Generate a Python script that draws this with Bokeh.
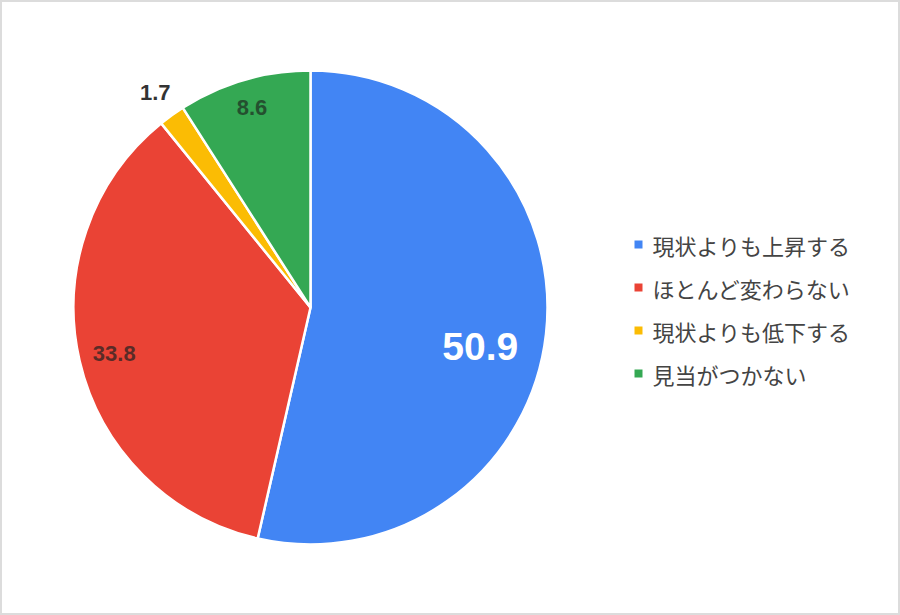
import math
from bokeh.plotting import figure
from bokeh.models import ColumnDataSource, Range1d
from bokeh.core.properties import value
from bokeh.embed import file_html
from bokeh.resources import INLINE

categories = ["現状よりも上昇する", "ほとんど変わらない", "現状よりも低下する", "見当がつかない"]
values = [50.9, 33.8, 1.7, 8.6]
labels = ["50.9", "33.8", "1.7", "8.6"]
colors = ["#4285F4", "#EA4335", "#FBBC04", "#34A853"]

# styling
label_colors = ["#ffffff", "#5a2b27", "#333333", "#24502f"]
label_sizes = ["39px", "22px", "22px", "22px"]
label_rfrac = [0.735, 0.85, 1.12, 0.88]
label_nudge_deg = [-6.5, 0.0, 0.0, 0.0]

W, H = 900, 615
cx, cy, R = 310, 615 - 307, 237

p = figure(width=W, height=H, output_backend="svg", toolbar_location=None,
           x_range=Range1d(0, W), y_range=Range1d(0, H),
           x_axis_location=None, y_axis_location=None, min_border=0,
           background_fill_color="white", border_fill_color="white")
p.grid.visible = False
p.outline_line_color = "#dcdcdc"
p.outline_line_width = 3

total = sum(values)
starts, ends, mids = [], [], []
acc = 0.0
for v in values:
    a0 = math.pi / 2 - 2 * math.pi * acc / total
    acc += v
    a1 = math.pi / 2 - 2 * math.pi * acc / total
    starts.append(a0)
    ends.append(a1)
    mids.append((a0 + a1) / 2)

src = ColumnDataSource(dict(start=starts, end=ends, color=colors))
p.wedge(x=cx, y=cy, radius=R, start_angle="start", end_angle="end",
        direction="clock", fill_color="color", line_color="white",
        line_width=2.5, source=src)

lx, ly = [], []
for m, rf, nd in zip(mids, label_rfrac, label_nudge_deg):
    a = m + math.radians(nd)
    lx.append(cx + rf * R * math.cos(a))
    ly.append(cy + rf * R * math.sin(a))
lsrc = ColumnDataSource(dict(x=lx, y=ly, t=labels, c=label_colors, s=label_sizes))
p.text(x="x", y="y", text="t", text_color="c", text_font_size="s",
       text_font=value("Liberation Sans"), text_font_style="bold",
       text_align="center", text_baseline="middle", source=lsrc)

# legend
leg_x0, leg_y0, leg_step = 638, 615 - 244, 43
sq_x = [leg_x0] * len(categories)
sq_y = [leg_y0 - i * leg_step for i in range(len(categories))]
p.scatter(x=sq_x, y=sq_y, marker="square", size=8, fill_color=colors, line_color=None)
p.text(x=[leg_x0 + 14] * len(categories), y=sq_y, text=categories,
       text_color="#444444", text_font_size="22px",
       text_font=value("Noto Sans CJK JP"), text_align="left",
       text_baseline="middle")

open("out.html", "w").write(file_html(p, INLINE))
